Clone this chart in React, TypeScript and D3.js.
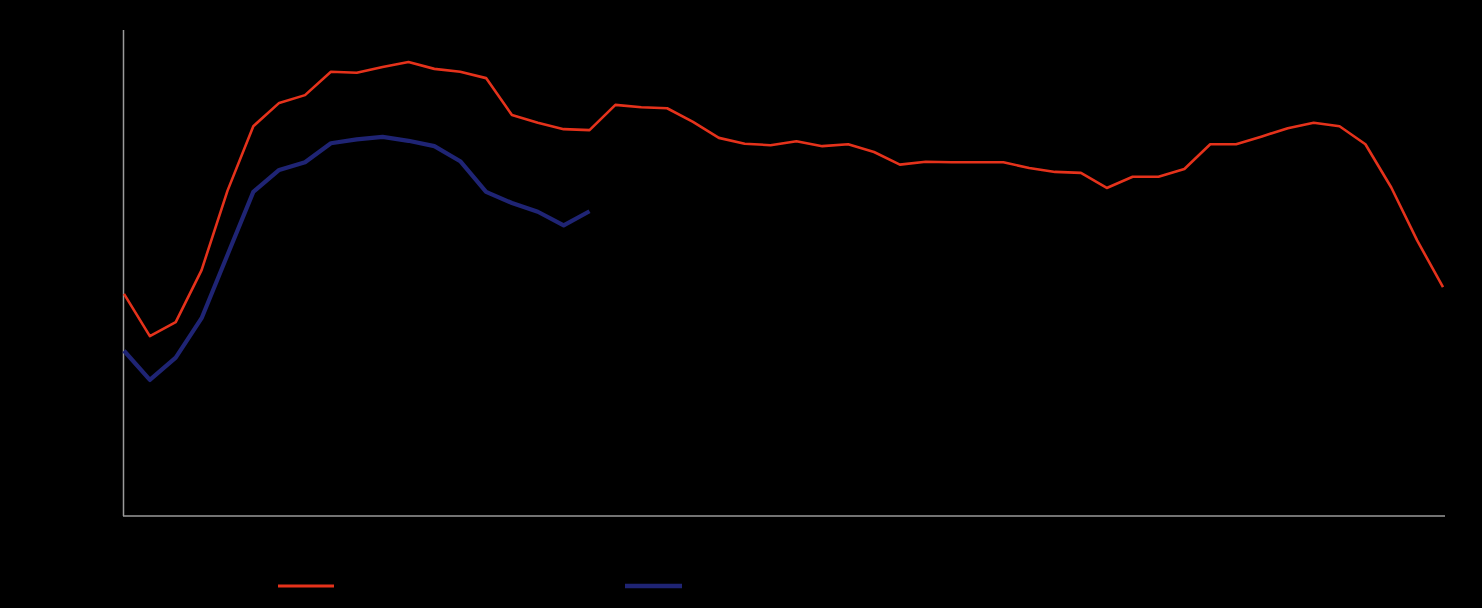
import React from "react";
import * as d3 from "d3";

const W = 1482;
const H = 608;

// weekly index (52 weeks)
const weeks: number[] = d3.range(1, 53);

const seriesA: number[] = [
  45.7, 37.0, 39.9, 50.6, 66.9, 80.2, 85.0, 86.6, 91.4, 91.2,
  92.4, 93.4, 92.0, 91.4, 90.1, 82.5, 80.9, 79.6, 79.4, 84.6,
  84.1, 83.9, 81.1, 77.8, 76.6, 76.3, 77.1, 76.1, 76.5, 74.9,
  72.3, 72.9, 72.8, 72.8, 72.8, 71.6, 70.8, 70.6, 67.5, 69.8,
  69.8, 71.4, 76.5, 76.5, 78.1, 79.8, 80.9, 80.2, 76.5, 67.6,
  56.7, 47.1,
];

const seriesB: number[] = [
  34.0, 28.0, 32.6, 40.7, 53.7, 66.7, 71.2, 72.8, 76.7, 77.5,
  78.0, 77.2, 76.1, 73.0, 66.7, 64.4, 62.6, 59.8, 62.7,
];

const yDomain: [number, number] = [0, 100];

const colorA = "#e5321b";
const colorB = "#1f2474";

export default function App() {
  const x = d3.scaleLinear().domain([1, 52]).range([124, 1443]);
  const y = d3.scaleLinear().domain(yDomain).range([516, 30]);

  const line = d3
    .line<number>()
    .x((_, i) => x(weeks[i]))
    .y((d) => y(d));

  return (
    <svg
      width={W}
      height={H}
      style={{ position: "absolute", left: 0, top: 0, display: "block" }}
    >
      <rect x={0} y={0} width={W} height={H} fill="#000" />
      {/* axes */}
      <line x1={123.5} x2={123.5} y1={30} y2={516} stroke="#9a9a9a" strokeWidth={1.5} />
      <line x1={123} x2={1445} y1={516} y2={516} stroke="#9a9a9a" strokeWidth={1.5} />
      {/* series */}
      <path d={line(seriesA) || ""} fill="none" stroke={colorA} strokeWidth={2.6} strokeLinejoin="round" />
      <path d={line(seriesB) || ""} fill="none" stroke={colorB} strokeWidth={4.2} strokeLinejoin="round" />
      {/* legend */}
      <line x1={278} x2={334} y1={586} y2={586} stroke={colorA} strokeWidth={3} />
      <line x1={625} x2={682} y1={586} y2={586} stroke={colorB} strokeWidth={4.5} />
    </svg>
  );
}
